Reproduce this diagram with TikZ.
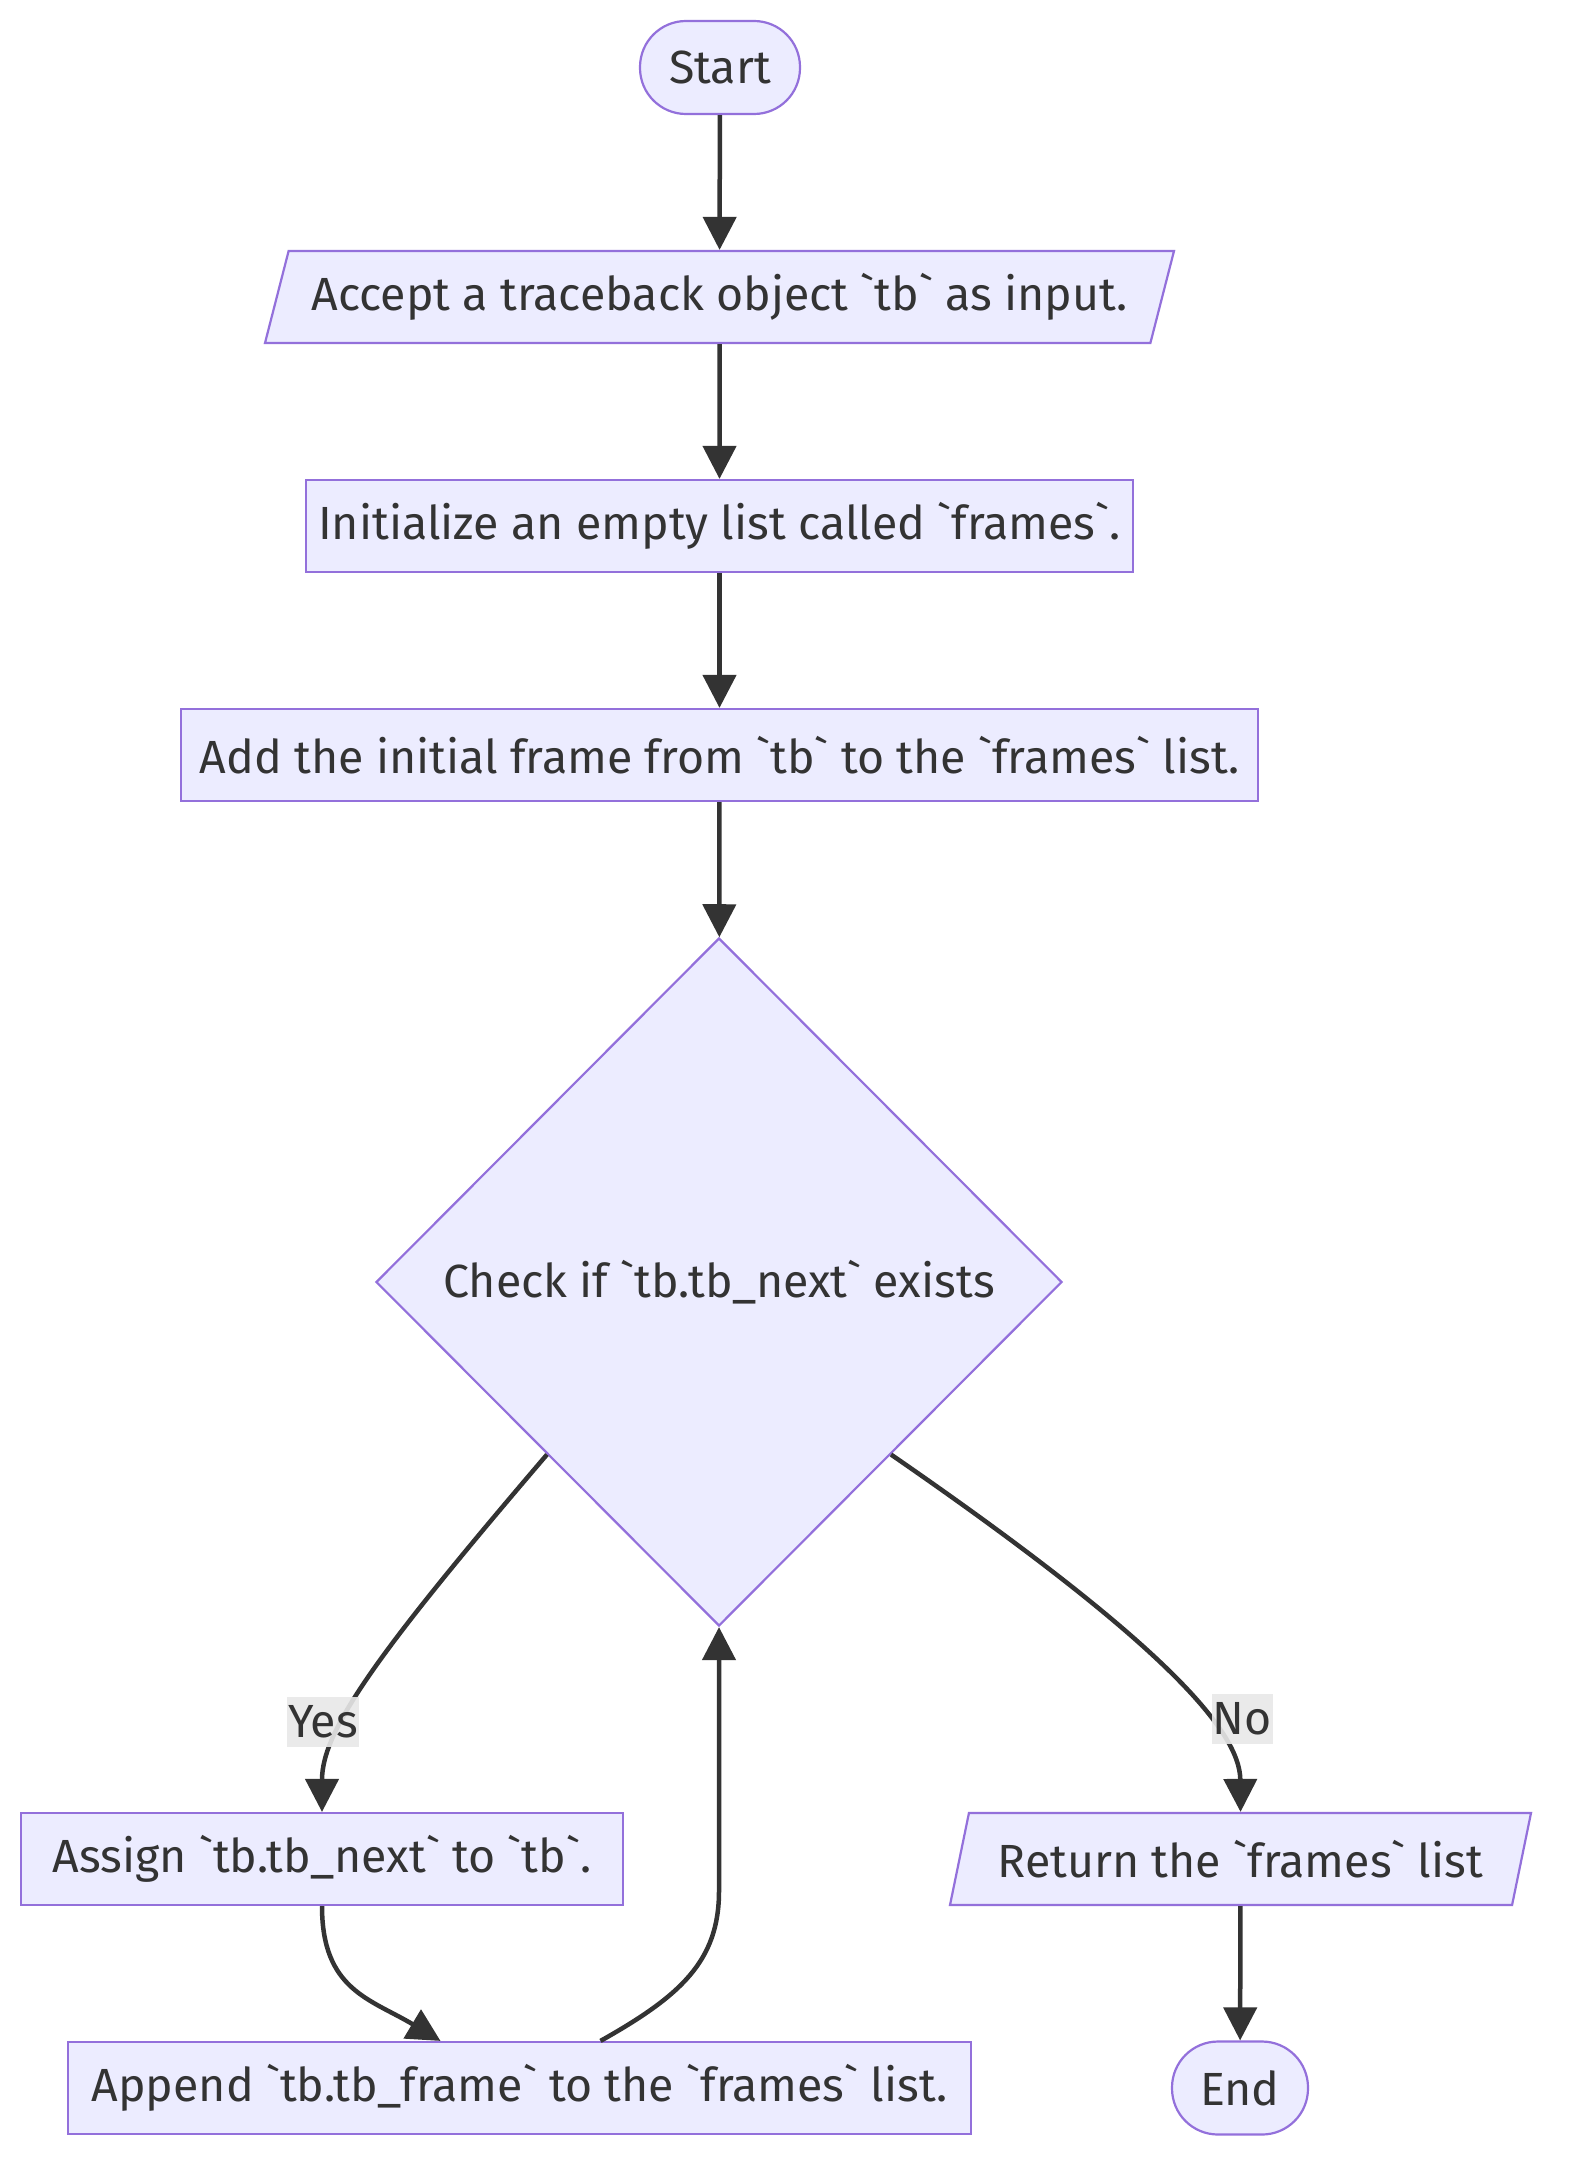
\documentclass[tikz,border=0pt]{standalone}
\usepackage{fontspec}
\newfontfamily\uifont{Fira Sans}
\usetikzlibrary{arrows.meta,shapes.geometric}
\definecolor{nodefill}{HTML}{ECECFF}
\definecolor{nodeline}{HTML}{9370DB}
\definecolor{ink}{HTML}{333333}
\definecolor{lblbg}{HTML}{E8E8E8}
\newcommand\bq{\symbol{96}}
\begin{document}
\begin{tikzpicture}[x=1pt,y=1pt,>={Triangle[length=33pt,width=33pt]},
    font=\uifont\fontsize{46.5}{52}\selectfont,text=ink,
    base/.style={draw=nodeline,fill=nodefill,line width=2.2pt,inner sep=0pt},
    box/.style={base,rectangle,minimum height=92pt},
    term/.style={base,rectangle,rounded corners=46pt,minimum height=93pt},
    io/.style={base,trapezium,trapezium left angle=63.4,trapezium right angle=116.6,
        trapezium stretches body=true,minimum height=92pt},
    dec/.style={base,diamond,minimum width=686pt,minimum height=688pt},
    arr/.style={->,draw=ink,line width=4.5pt},
    lbl/.style={fill=lblbg,fill opacity=0.9,text opacity=1,inner xsep=1pt,inner ysep=0pt,minimum height=50pt}]
    \useasboundingbox (0,0) rectangle (1568,-2178);
    \node[term,minimum width=160pt] (start) at (720,-67.5) {Start};
    \node[io,minimum width=909pt] (accept) at (719.5,-297) {Accept a traceback object \bq tb\bq\ as input.};
    \node[box,minimum width=827pt] (init) at (719.5,-526) {Initialize an empty list called \bq frames\bq.};
    \node[box,minimum width=1077pt] (add) at (719.5,-755) {Add the initial frame from \bq tb\bq\ to the \bq frames\bq\ list.};
    \node[dec] (check) at (719,-1282) {Check if \bq tb.tb\_next\bq\ exists};
    \node[box,minimum width=602pt] (assign) at (322,-1859) {Assign \bq tb.tb\_next\bq\ to \bq tb\bq.};
    \node[io,minimum width=581pt] (ret) at (1240.5,-1859) {Return the \bq frames\bq\ list};
    \node[box,minimum width=903pt] (append) at (519.5,-2088) {Append \bq tb.tb\_frame\bq\ to the \bq frames\bq\ list.};
    \node[term,minimum width=136pt] (stop) at (1240,-2088) {End};
    \draw[arr] (start) -- (accept);
    \draw[arr] (accept) -- (init);
    \draw[arr] (init) -- (add);
    \draw[arr] (add) -- (check);
    \draw[arr] (check.south west) .. controls (378,-1652) and (322,-1730) .. (assign.north) node[lbl,pos=0.65,xshift=-22pt]{Yes};
    \draw[arr] (check.south east) .. controls (1160,-1640) and (1240,-1730) .. (ret.north) node[lbl,pos=0.65,xshift=36pt]{No};
    \draw[arr] (assign.south) .. controls +(0,-84) and +(-70,42) .. ([xshift=-79pt]append.north);
    \draw[arr] ([xshift=81pt]append.north) .. controls +(80,45) and +(0,-70) .. ([yshift=-264pt]check.south) -- (check.south);
    \draw[arr] (ret) -- (stop);
\end{tikzpicture}
\end{document}
